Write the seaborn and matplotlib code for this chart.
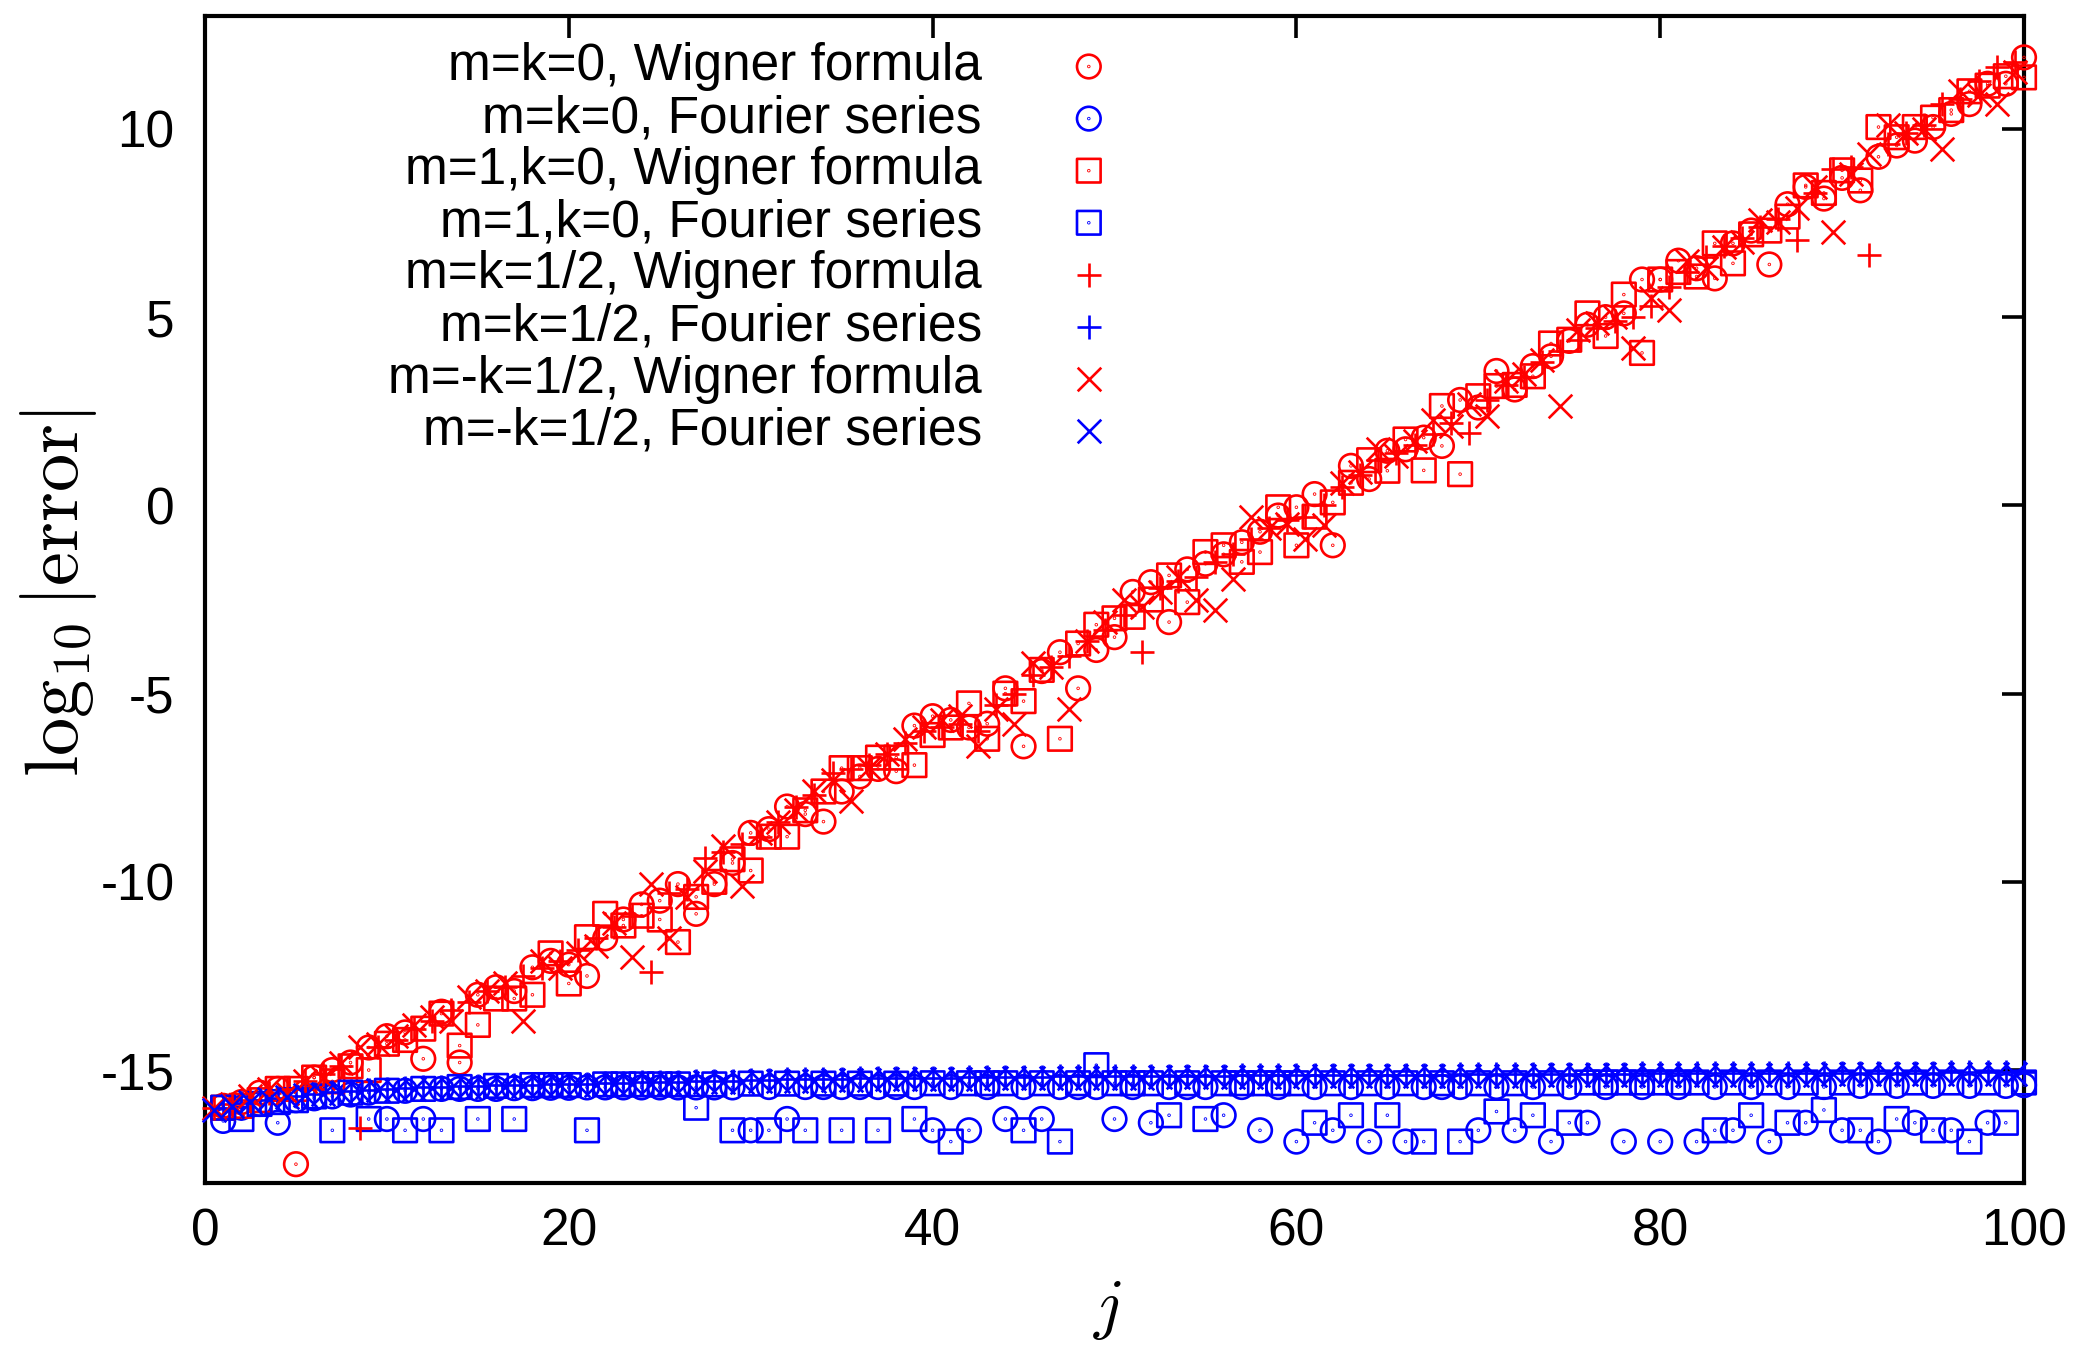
import numpy as np
import matplotlib
matplotlib.use("Agg")
import matplotlib.pyplot as plt
import seaborn as sns
from matplotlib.path import Path

# ---------------- data ----------------
j_int = np.arange(1, 101)          # integer j
j_half = np.arange(0.5, 100, 1.0)  # half-integer j

wig_m0k0 = [-15.95, -15.85, -15.6, -15.5, -17.5, -15.2, -15.0, -14.8, -14.4, -14.1,
            -14.0, -14.7, -13.45, -14.8, -13.0, -12.8, -12.9, -12.27, -12.1, -12.2,
            -12.5, -11.5, -11.0, -10.6, -10.5, -10.06, -10.85, -10.06, -9.5, -8.7,
            -8.6, -8.0, -8.2, -8.4, -7.6, -7.2, -7.0, -7.06, -5.85, -5.6,
            -5.7, -5.9, -5.8, -4.86, -6.4, -4.4, -3.9, -4.86, -3.84, -3.5,
            -2.3, -2.04, -3.1, -1.7, -1.55, -1.3, -0.98, -0.7, -0.27, -0.05,
            0.3, -1.06, 1.05, 0.7, 1.45, 1.49, 1.8, 1.58, 2.8, 2.6,
            3.57, 3.08, 3.7, 3.96, 4.37, 4.8, 5.0, 5.1, 6.0, 6.0,
            6.5, 6.3, 6.03, 6.96, 7.3, 6.4, 8.0, 8.46, 8.15, 8.7,
            8.37, 9.26, 9.56, 9.69, 10.05, 10.4, 10.66, 11.2, 11.2, 11.9]

fou_m0k0 = [-16.35, -16.0, -15.9, -16.4, -15.8, -15.75, -15.7, -15.65, -15.6, -16.3,
            -15.55, -16.3, -15.5, -15.5, -15.5, -15.5, -15.48, -15.48, -15.47, -15.47,
            -15.46, -15.46, -15.46, -15.46, -15.46, -15.46, -15.46, -15.46, -15.46, -16.6,
            -15.45, -16.3, -15.45, -15.45, -15.45, -15.45, -15.45, -15.45, -15.45, -16.6,
            -15.45, -16.6, -15.45, -16.3, -15.45, -16.3, -15.45, -15.45, -15.45, -16.3,
            -15.45, -16.4, -15.45, -15.45, -15.45, -16.2, -15.45, -16.6, -15.45, -16.9,
            -15.45, -16.6, -15.45, -16.9, -15.45, -16.9, -15.45, -15.45, -15.45, -16.6,
            -15.45, -16.6, -15.45, -16.9, -15.45, -16.4, -15.45, -16.9, -15.45, -16.9,
            -15.45, -16.9, -15.45, -16.6, -15.45, -16.9, -15.45, -16.4, -15.45, -16.6,
            -15.42, -16.9, -15.42, -16.4, -15.42, -16.6, -15.42, -16.4, -15.42, -15.4]

wig_m1k0 = [-16.0, -15.95, -15.8, -15.5, -15.5, -15.2, -15.3, -14.9, -15.0, -14.3,
            -14.2, -13.9, -13.5, -14.35, -13.8, -13.1, -13.1, -13.0, -11.9, -12.7,
            -11.47, -10.85, -11.16, -10.9, -11.0, -11.6, -10.4, -10.0, -9.4, -9.7,
            -8.8, -8.8, -8.1, -7.6, -6.98, -6.98, -6.7, -6.7, -6.9, -6.1,
            -5.9, -5.26, -6.2, -5.0, -5.2, -4.37, -6.2, -3.67, -3.17, -3.0,
            -2.96, -2.5, -1.86, -2.57, -1.24, -1.06, -1.5, -1.24, -0.05, -1.06,
            -0.3, 0.08, 0.6, 1.2, 0.92, 1.75, 0.93, 2.64, 0.83, 2.9,
            3.17, 3.2, 3.43, 4.3, 4.4, 5.1, 4.5, 5.6, 4.05, 6.0,
            6.2, 6.08, 6.96, 6.43, 7.2, 7.3, 7.67, 8.5, 8.3, 8.9,
            8.63, 10.05, 9.78, 10.05, 10.3, 10.5, 11.0, 11.15, 11.4, 11.37]

fou_m1k0 = [-16.0, -16.3, -15.9, -15.85, -15.8, -15.7, -16.6, -15.6, -16.3, -15.55,
            -16.6, -15.5, -16.6, -15.45, -16.3, -15.42, -16.3, -15.4, -15.4, -15.4,
            -16.6, -15.38, -15.38, -15.38, -15.38, -15.38, -16.0, -15.38, -16.6, -15.36,
            -16.6, -15.36, -16.6, -15.36, -16.6, -15.36, -16.6, -15.36, -16.3, -15.35,
            -16.9, -15.35, -15.35, -15.35, -16.6, -15.35, -16.9, -15.35, -14.87, -15.35,
            -15.35, -15.35, -16.2, -15.35, -16.3, -15.35, -15.35, -15.35, -15.35, -15.35,
            -16.4, -15.35, -16.2, -15.35, -16.2, -15.35, -16.9, -15.35, -16.9, -15.35,
            -16.1, -15.35, -16.2, -15.35, -16.4, -15.33, -15.33, -15.33, -15.33, -15.33,
            -15.33, -15.33, -16.6, -15.33, -16.2, -15.33, -16.4, -15.33, -16.06, -15.33,
            -16.6, -15.33, -16.3, -15.33, -16.6, -15.33, -16.9, -15.33, -16.4, -15.33]

wig_mk12 = [-16.0, -15.9, -15.8, -15.6, -15.5, -15.3, -15.1, -14.9, -16.55, -14.4,
            -14.2, -13.9, -13.7, -13.4, -13.2, -12.9, -12.8, -12.5, -12.3, -12.1,
            -11.8, -11.5, -11.2, -10.9, -12.4, -10.3, -10.2, -9.36, -9.2, -9.0,
            -8.8, -8.4, -8.0, -7.7, -7.1, -7.0, -6.9, -6.6, -6.3, -6.0,
            -5.9, -5.8, -6.0, -5.3, -5.0, -4.5, -4.3, -4.0, -3.6, -3.3,
            -2.9, -3.9, -2.2, -2.0, -1.9, -1.5, -1.3, -0.9, -0.6, -0.4,
            -0.3, 0.0, 0.5, 0.8, 1.2, 1.4, 1.6, 1.9, 2.2, 1.93,
            2.8, 3.2, 3.4, 3.8, 4.1, 4.4, 4.7, 4.9, 5.0, 5.3,
            5.8, 6.2, 6.6, 6.9, 7.1, 7.4, 7.6, 7.04, 8.3, 8.94,
            9.0, 6.65, 9.6, 9.9, 10.1, 10.66, 10.8, 11.28, 11.64, 11.77]

fou_mk12 = [-16.0, -15.88, -15.8, -15.74, -15.68, -15.63, -15.59, -15.56, -15.53, -15.5,
            -15.48, -15.46, -15.44, -15.43, -15.42, -15.41, -15.4, -15.39, -15.38, -15.37,
            -15.36, -15.35, -15.34, -15.33, -15.32, -15.31, -15.3, -15.29, -15.28, -15.27,
            -15.26, -15.25, -15.24, -15.24, -15.23, -15.22, -15.22, -15.21, -15.21, -15.2,
            -15.2, -15.19, -15.19, -15.18, -15.18, -15.18, -15.17, -15.17, -15.17, -15.16,
            -15.16, -15.16, -15.15, -15.15, -15.15, -15.15, -15.14, -15.14, -15.14, -15.14,
            -15.13, -15.13, -15.13, -15.13, -15.12, -15.12, -15.12, -15.12, -15.11, -15.11,
            -15.11, -15.11, -15.11, -15.1, -15.1, -15.1, -15.1, -15.1, -15.09, -15.09,
            -15.09, -15.09, -15.09, -15.08, -15.08, -15.08, -15.08, -15.08, -15.08, -15.07,
            -15.07, -15.07, -15.07, -15.07, -15.07, -15.06, -15.06, -15.06, -15.06, -15.06]

wig_mmk12 = [-16.0, -15.9, -15.7, -15.5, -15.6, -15.3, -15.2, -14.8, -14.4, -14.3,
             -14.1, -13.8, -13.6, -13.7, -13.06, -12.9, -12.7, -13.7, -12.1, -12.3,
             -11.9, -11.7, -11.1, -12.0, -10.06, -11.5, -10.4, -9.7, -9.05, -10.1,
             -8.7, -8.4, -8.1, -7.6, -7.3, -7.86, -6.98, -6.6, -6.2, -5.9,
             -5.7, -5.6, -6.4, -5.4, -5.8, -4.2, -4.3, -5.4, -3.6, -3.1,
             -2.5, -2.7, -2.3, -1.9, -2.5, -2.78, -1.95, -0.3, -0.6, -0.5,
             -0.9, -0.53, 0.6, 0.9, 1.5, 1.3, 1.7, 2.28, 2.1, 2.7,
             2.37, 3.3, 3.5, 3.87, 2.64, 4.66, 4.84, 5.0, 4.18, 5.5,
             5.2, 6.5, 6.3, 6.87, 7.0, 7.57, 7.54, 7.9, 8.46, 7.27,
             8.8, 9.34, 10.1, 9.9, 10.0, 9.47, 11.0, 10.9, 10.66, 11.5]

fou_mmk12 = [-16.05, -15.95, -15.85, -15.78, -15.72, -15.67, -15.63, -15.6, -15.57, -15.54,
             -15.52, -15.5, -15.48, -15.47, -15.46, -15.45, -15.44, -15.43, -15.42, -15.41,
             -15.4, -15.39, -15.38, -15.37, -15.36, -15.35, -15.34, -15.33, -15.32, -15.31,
             -15.3, -15.29, -15.28, -15.28, -15.27, -15.26, -15.26, -15.25, -15.25, -15.24,
             -15.24, -15.23, -15.23, -15.22, -15.22, -15.22, -15.21, -15.21, -15.21, -15.2,
             -15.2, -15.2, -15.19, -15.19, -15.19, -15.19, -15.18, -15.18, -15.18, -15.18,
             -15.17, -15.17, -15.17, -15.17, -15.16, -15.16, -15.16, -15.16, -15.15, -15.15,
             -15.15, -15.15, -15.15, -15.14, -15.14, -15.14, -15.14, -15.14, -15.13, -15.13,
             -15.13, -15.13, -15.13, -15.12, -15.12, -15.12, -15.12, -15.12, -15.12, -15.11,
             -15.11, -15.11, -15.11, -15.11, -15.11, -15.1, -15.1, -15.1, -15.1, -15.1]

labels = ["m=k=0, Wigner formula", "m=k=0, Fourier series",
          "m=1,k=0, Wigner formula", "m=1,k=0, Fourier series",
          "m=k=1/2, Wigner formula", "m=k=1/2, Fourier series",
          "m=-k=1/2, Wigner formula", "m=-k=1/2, Fourier series"]
x_ticks = [0, 20, 40, 60, 80, 100]
y_ticks = [-15, -10, -5, 0, 5, 10]

# ---------------- style ----------------
sns.set_theme(style="white")
plt.rcParams["font.family"] = ["Liberation Sans", "DejaVu Sans"]
plt.rcParams["mathtext.fontset"] = "cm"
plt.rcParams["axes.unicode_minus"] = False
for key in ["text.color", "axes.labelcolor", "xtick.color", "ytick.color"]:
    plt.rcParams[key] = "black"

RED = "#ff0000"
BLUE = "#0000ff"

dot = Path.circle((0, 0), 0.035)
circle_dot = Path.make_compound_path(Path.unit_circle(), dot)
sq = Path([(-1, -1), (1, -1), (1, 1), (-1, 1), (-1, -1)],
          [Path.MOVETO, Path.LINETO, Path.LINETO, Path.LINETO, Path.CLOSEPOLY])
square_dot = Path.make_compound_path(sq, dot)

fig = plt.figure(figsize=(20.78, 13.5), dpi=100)
ax = fig.add_axes([205 / 2078, 1 - 1183 / 1350, (2024 - 205) / 2078, (1183 - 16) / 1350])

MS = 17
LW = 1.9
series = [
    (j_int, wig_m0k0, circle_dot, RED, labels[0]),
    (j_int, fou_m0k0, circle_dot, BLUE, labels[1]),
    (j_int, wig_m1k0, square_dot, RED, labels[2]),
    (j_int, fou_m1k0, square_dot, BLUE, labels[3]),
    (j_half, wig_mk12, "+", RED, labels[4]),
    (j_int, fou_mk12, "+", BLUE, labels[5]),
    (j_half, wig_mmk12, "x", RED, labels[6]),
    (j_half, fou_mmk12, "x", BLUE, labels[7]),
]
for k, (xs, ys, mk, col, lab) in enumerate(series):
    if isinstance(mk, Path):
        sns.scatterplot(x=xs, y=ys, marker=mk, s=MS ** 2, color=col,
                        facecolor="none", edgecolor=col, linewidth=LW,
                        label=lab, ax=ax, zorder=3 + k, clip_on=False)
    else:
        sns.scatterplot(x=xs, y=ys, marker=mk, s=MS ** 2, color=col,
                        linewidth=LW, label=lab, ax=ax, zorder=3 + k, clip_on=False)

ax.set_xlim(0, 100)
ax.set_ylim(-18, 13)
ax.set_xticks(x_ticks)
ax.set_yticks(y_ticks)
ax.tick_params(axis="both", direction="in", length=16, width=2.6,
               top=True, right=True, colors="black", labelsize=37)
ax.tick_params(axis="y", pad=22)
ax.tick_params(axis="x", pad=18)
for sp in ax.spines.values():
    sp.set_linewidth(3.0)
    sp.set_color("black")

ax.set_xlabel(r"$j$", fontsize=48)
ax.set_ylabel(r"$\log_{10}|\mathrm{error}|$", fontsize=55)
ax.xaxis.set_label_coords(0.496, -0.082)
ax.yaxis.set_label_coords(-0.058, 0.505)

handles, labs = ax.get_legend_handles_labels()
leg = ax.legend(handles, labs, loc="upper right",
                bbox_to_anchor=(1114.5 / 2078, 1 - 42 / 1350),
                bbox_transform=fig.transFigure,
                markerfirst=False, frameon=False, fontsize=37,
                labelspacing=0.06, handlelength=1.0, handletextpad=1.58,
                borderpad=0, borderaxespad=0, scatterpoints=1)

fig.savefig("out.png", dpi=100)
